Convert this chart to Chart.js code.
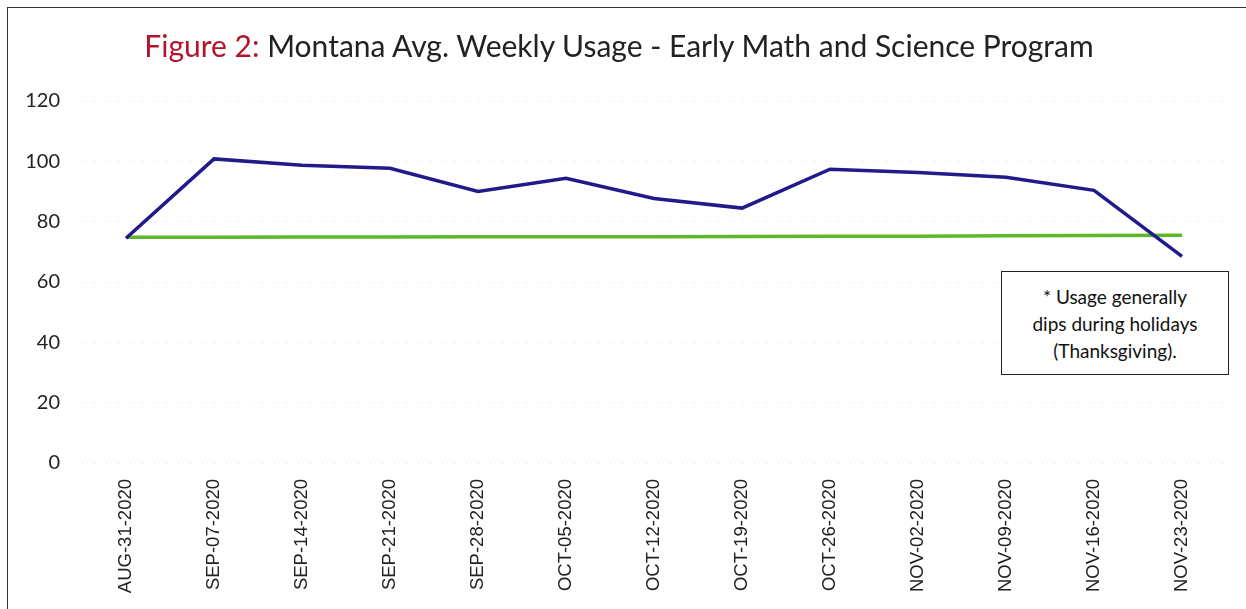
<!DOCTYPE html>
<html>
<head>
<meta charset="utf-8">
<script src="https://cdn.jsdelivr.net/npm/chart.js@4.4.0/dist/chart.umd.min.js"></script>
<style>
  html, body { margin: 0; padding: 0; background: #fff; }
  #wrap { position: relative; width: 1246px; height: 609px; overflow: hidden; }
  #frame { position: absolute; left: 7px; top: 7px; width: 1240px; height: 640px; border: 1.5px solid #333; box-sizing: border-box; }
  #title { position: absolute; left: 0; width: 1238px; top: 27px; text-align: center; font-family: Lato, "Open Sans", sans-serif; font-size: 30px; color: #222; }
  #title span { color: #b3142a; }
  #note { position: absolute; left: 1001px; top: 271px; width: 228px; height: 104px; border: 1.5px solid #222; box-sizing: border-box; font-family: Lato, "Open Sans", sans-serif; font-size: 19px; line-height: 27px; text-align: center; color: #111; padding-top: 11px; background: #fff; }
  canvas { position: absolute; left: 0; top: 0; }
</style>
</head>
<body>
<div id="wrap">
  <canvas id="c" width="1246" height="609"></canvas>
  <div id="frame"></div>
  <div id="title"><span>Figure 2:</span> Montana Avg. Weekly Usage - Early Math and Science Program</div>
  <div id="note">* Usage generally<br>dips during holidays<br>(Thanksgiving).</div>
</div>
<script>
const categories = ["AUG-31-2020","SEP-07-2020","SEP-14-2020","SEP-21-2020","SEP-28-2020","OCT-05-2020","OCT-12-2020","OCT-19-2020","OCT-26-2020","NOV-02-2020","NOV-09-2020","NOV-16-2020","NOV-23-2020"];
const usage = [74.5, 100.8, 98.7, 97.7, 90, 94.4, 87.7, 84.5, 97.4, 96.3, 94.7, 90.4, 68.5];
const benchmark = [74.8, 74.8, 74.9, 74.9, 75, 75, 75, 75.1, 75.2, 75.2, 75.3, 75.4, 75.5];
const yTicks = [0, 20, 40, 60, 80, 100, 120];

new Chart(document.getElementById('c'), {
  type: 'line',
  data: {
    labels: categories,
    datasets: [
      { label: 'Benchmark', data: benchmark, borderColor: '#5cb82a', borderWidth: 3.5, pointRadius: 0, tension: 0, order: 2 },
      { label: 'Avg. Weekly Usage', data: usage, borderColor: '#22198a', borderWidth: 3.5, pointRadius: 0, tension: 0, order: 1 }
    ]
  },
  options: {
    responsive: false,
    animation: false,
    layout: { padding: { top: 101, right: 20, left: 0, bottom: 0 } },
    plugins: { legend: { display: false }, title: { display: false }, tooltip: { enabled: false } },
    scales: {
      x: {
        offset: true,
        grid: { display: false },
        border: { display: false },
        ticks: { maxRotation: 90, minRotation: 90, autoSkip: false, padding: 8, color: '#222', font: { family: 'Liberation Sans', size: 18.5 } },
        afterFit: (s) => { s.height = 146; }
      },
      y: {
        min: 0, max: 120,
        afterBuildTicks: (s) => { s.ticks = yTicks.map(v => ({ value: v })); },
        grid: { color: 'rgba(0,0,0,0.15)', lineWidth: 1, drawTicks: false },
        border: { display: false, dash: [1, 11] },
        ticks: { padding: 22, color: '#222', font: { family: 'Lato', size: 20 } },
        afterFit: (s) => { s.width = 82; }
      }
    }
  }
});
</script>
</body>
</html>
